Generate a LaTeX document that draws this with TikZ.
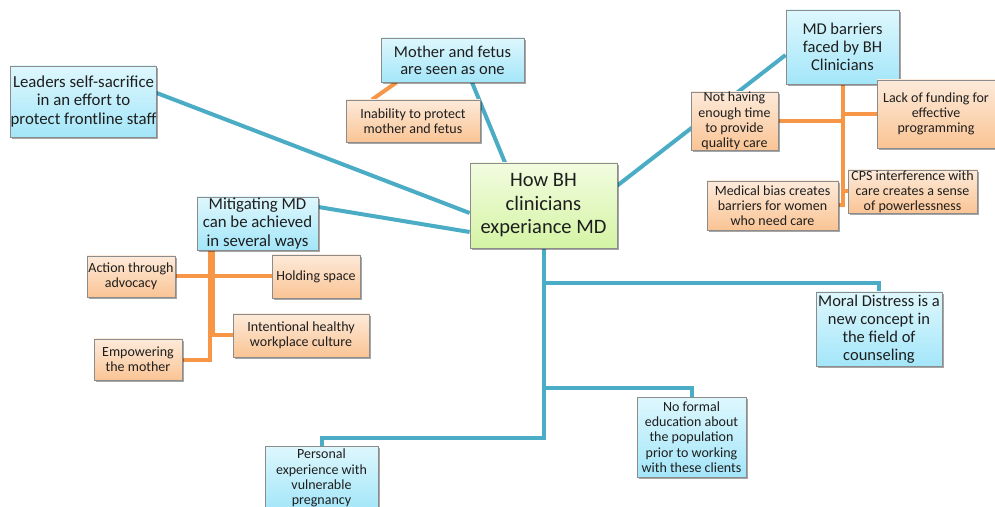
\documentclass[tikz,border=0pt]{standalone}
\usepackage{fontspec}
\setmainfont{Carlito}
\usetikzlibrary{shadows,backgrounds}
\definecolor{bline}{RGB}{75,172,198}
\definecolor{oline}{RGB}{247,150,70}
\definecolor{btop}{RGB}{222,247,253}
\definecolor{bbot}{RGB}{163,230,249}
\definecolor{otop}{RGB}{253,234,218}
\definecolor{obot}{RGB}{250,196,148}
\definecolor{gtop}{RGB}{242,252,224}
\definecolor{gbot}{RGB}{212,244,164}
\definecolor{bord}{RGB}{140,140,140}
\definecolor{txt}{RGB}{30,30,30}
\tikzset{
 box/.style={draw=bord, line width=0.8bp, align=center, inner sep=0bp, text=txt,
   drop shadow={shadow xshift=1.5bp, shadow yshift=-2bp, opacity=0.35, fill=black}},
 bluebox/.style={box, top color=btop, bottom color=bbot},
 orangebox/.style={box, top color=otop, bottom color=obot},
 greenbox/.style={box, top color=gtop, bottom color=gbot},
 bigtxt/.style={font=\fontsize{16.5bp}{17.8bp}\selectfont},
 lgtxt/.style={font=\fontsize{16.8bp}{18.3bp}\selectfont},
 midtxt/.style={font=\fontsize{16.5bp}{17bp}\selectfont},
 smalltxt/.style={font=\fontsize{14bp}{15.2bp}\selectfont},
 centtxt/.style={font=\fontsize{20.5bp}{23.5bp}\selectfont},
 bconn/.style={draw=bline, line width=4bp},
 oconn/.style={draw=oline, line width=4bp},
}
\begin{document}
\begin{tikzpicture}[x=1bp,y=-1bp]
\useasboundingbox (0,0) rectangle (995,507);

\node[bluebox,lgtxt,minimum width=143bp,minimum height=71bp] (L) at (83.5,101.5) {Leaders self-sacrifice\\in an effort to\\protect frontline staff};
\node[bluebox,midtxt,minimum width=143bp,minimum height=44bp] (Mo) at (452.5,60) {Mother and fetus\\are seen as one};
\node[orangebox,smalltxt,minimum width=134bp,minimum height=42bp] (In) at (413,121) {Inability to protect\\mother and fetus};
\node[greenbox,centtxt,minimum width=147bp,minimum height=85bp] (C) at (543.5,205.5) {How BH\\clinicians\\experiance MD};
\node[bluebox,bigtxt,minimum width=113bp,minimum height=74bp] (MB) at (842.5,47) {MD barriers\\faced by BH\\Clinicians};
\node[orangebox,smalltxt,minimum width=87bp,minimum height=58bp] (NH) at (734.5,121) {Not having\\enough time\\to provide\\quality care};
\node[orangebox,smalltxt,minimum width=118bp,minimum height=68bp] (LF) at (936,114) {Lack of funding for\\effective\\programming};
\node[orangebox,smalltxt,minimum width=131bp,minimum height=49bp] (MBi) at (772.5,205.5) {Medical bias creates\\barriers for women\\who need care};
\node[orangebox,smalltxt,minimum width=129bp,minimum height=43bp] (CPS) at (912.5,191.5) {CPS interference with\\care creates a sense\\of powerlessness};
\node[bluebox,lgtxt,minimum width=121bp,minimum height=53bp] (Mi) at (257.5,223.5) {Mitigating MD\\can be achieved\\in several ways};
\node[orangebox,smalltxt,minimum width=88bp,minimum height=41bp] (AA) at (131,276.5) {Action through\\advocacy};
\node[orangebox,smalltxt,minimum width=88bp,minimum height=43bp] (HS) at (316,276.5) {Holding space};
\node[orangebox,smalltxt,minimum width=136bp,minimum height=43bp] (IH) at (301,335.5) {Intentional healthy\\workplace culture};
\node[orangebox,smalltxt,minimum width=88bp,minimum height=41bp] (EM) at (138,359.5) {Empowering\\the mother};
\node[bluebox,bigtxt,minimum width=126bp,minimum height=74bp] (MD) at (879,329) {Moral Distress is a\\new concept in\\the field of\\counseling};
\node[bluebox,smalltxt,minimum width=109bp,minimum height=80bp] (NF) at (691.5,437) {No formal\\education about\\the population\\prior to working\\with these clients};
\node[bluebox,smalltxt,minimum width=113bp,minimum height=64bp] (PE) at (321.5,478) {Personal\\experience with\\vulnerable\\pregnancy};

\begin{pgfonlayer}{background}
\fill[white] (0,0) rectangle (995,507);
\draw[bconn] ([yshift=8.5bp]L.east) -- ([yshift=-7.5bp]C.west);
\draw[bconn] ([xshift=19.5bp]Mo.south) -- ([xshift=-38.5bp]C.north);
\draw[oconn] ([xshift=-56bp]Mo.south) -- ([xshift=-41bp]In.north);
\draw[bconn] ([yshift=20bp]C.east) -- ([yshift=-8bp]MB.west);
\draw[oconn] (MB.south) |- (NH.east);
\draw[oconn] (MB.south) |- (LF.west);
\draw[oconn] (MB.south) |- (CPS.west);
\draw[oconn] (MB.south) |- (MBi.east);
\draw[bconn] ([yshift=16.5bp]Mi.east) -- ([yshift=-26.5bp]C.west);
\coordinate (mt) at ([xshift=-48bp]Mi.south);
\draw[oconn] (mt) |- (AA.east);
\draw[oconn] (mt) |- (HS.west);
\draw[oconn] (mt) |- (EM.east);
\draw[oconn] ([xshift=3bp]mt) |- (IH.west);
\draw[bconn] (C.south) |- ([yshift=9bp]MD.north) -- (MD.north);
\draw[bconn] (C.south) |- ([yshift=9bp]NF.north) -- (NF.north);
\draw[bconn] (C.south) |- ([yshift=8bp]PE.north) -- (PE.north);
\end{pgfonlayer}
\end{tikzpicture}
\end{document}
